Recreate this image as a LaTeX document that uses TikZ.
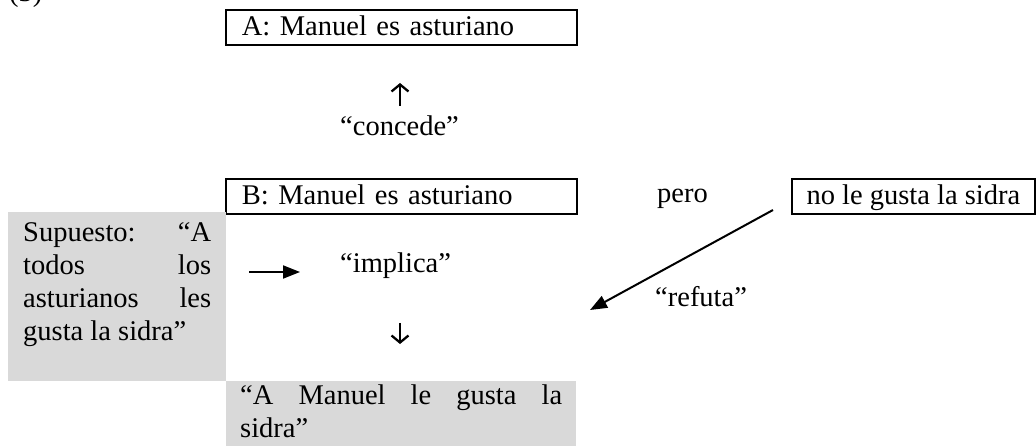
\documentclass[tikz,border=0pt]{standalone}
\usepackage{fontspec}
\setmainfont{Liberation Serif}
\usetikzlibrary{arrows.meta}
\definecolor{gfill}{RGB}{217,217,217}
\begin{document}
\begin{tikzpicture}[x=1pt,y=-1pt,
  every node/.style={font=\fontsize{28.5}{33}\selectfont, inner sep=0pt},
  lbl/.style={anchor=base west},
  frame/.style={draw, line width=1.8pt, anchor=north west, minimum width=351pt,
    minimum height=35pt, text height=20pt, text depth=4pt},
  graybox/.style={fill=gfill, anchor=north west, inner ysep=0pt},
  conn/.style={line width=2pt, -{Triangle[length=17pt,width=13pt]}},
  glypharrow/.style={line width=2.3pt, -{Straight Barb[length=7pt,width=17pt,line width=2.3pt]}}]
\useasboundingbox (0,0) rectangle (1036,446);
\node[lbl] (num) at (9,2) {(3)};
\node[frame, text width=319pt, inner xsep=16pt, align=left] (A) at (225,9) {A: Manuel es asturiano};
\coordinate (upb) at (400,106);
\coordinate (upt) at (400,83);
\draw[glypharrow] (upb) -- (upt);
\node[lbl] (conc) at (340,136) {“concede”};
\node[frame, text width=319pt, inner xsep=16pt, align=left] (B) at (225,178) {B: Manuel es asturiano};
\node[lbl] (pero) at (657,203) {pero};
\node[frame, minimum width=243pt] (C) at (791,178) {no le gusta la sidra};
\node[graybox, inner xsep=15pt] (S) at (8,212) {\parbox[c][169pt][t]{188pt}{\rule{0pt}{29pt}\makebox[188pt][s]{Supuesto: “A}\\
\makebox[188pt][s]{todos los}\\
\makebox[188pt][s]{asturianos les}\\
gusta la sidra”}};
\node[graybox, inner xsep=14pt] (M) at (226,381) {\parbox[c][70pt][t]{322pt}{\rule{0pt}{23pt}\makebox[322pt][s]{“A Manuel le gusta la}\\
sidra”}};
\coordinate (ia) at (249,272);
\coordinate (ib) at (300,272);
\draw[conn] (ia) -- (ib);
\node[lbl] (imp) at (340,273) {“implica”};
\coordinate (dnt) at (400,323);
\coordinate (dnb) at (400,344);
\draw[glypharrow] (dnt) -- (dnb);
\coordinate (rs) at (773,210);
\coordinate (rt) at (590,310);
\draw[conn] (rs) -- (rt);
\node[lbl] (ref) at (655,307) {“refuta”};
\end{tikzpicture}
\end{document}
